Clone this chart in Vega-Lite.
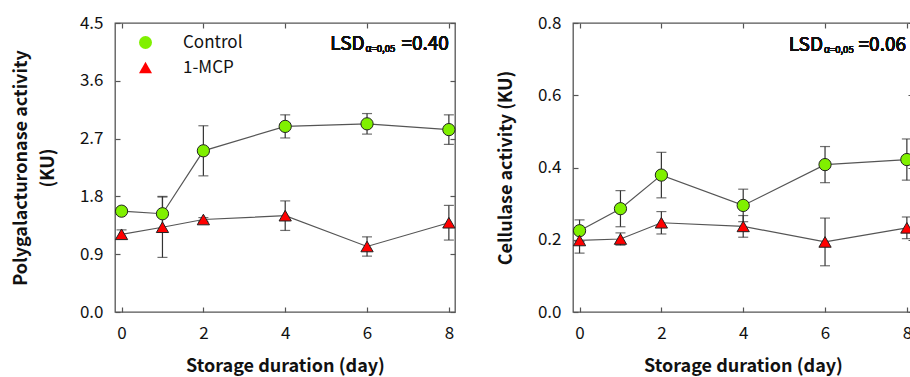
{
  "$schema": "https://vega.github.io/schema/vega-lite/v6.json",
  "background": "white",
  "padding": {"left": 11, "top": 13, "right": 0, "bottom": 0},
  "spacing": 38,
  "config": {
    "font": "Noto Sans CJK KR",
    "view": {"stroke": "#555", "strokeWidth": 1.3},
    "axis": {
      "grid": false, "domain": false,
      "tickColor": "#555", "tickSize": -5, "tickWidth": 1.2,
      "labelFont": "Noto Sans CJK KR", "labelFontSize": 17, "labelColor": "#111",
      "titleFont": "Noto Sans CJK KR", "titleFontSize": 18, "titleFontWeight": 600, "titleColor": "#111"
    },
    "legend": {
      "labelFont": "Noto Sans CJK KR", "labelFontSize": 17, "labelColor": "#111"
    }
  },
  "datasets": {
    "pg": [
      {"series": "Control", "day": 0, "value": 1.57, "err": 0.04},
      {"series": "Control", "day": 1, "value": 1.53, "err": 0.27},
      {"series": "Control", "day": 2, "value": 2.51, "err": 0.39},
      {"series": "Control", "day": 4, "value": 2.89, "err": 0.18},
      {"series": "Control", "day": 6, "value": 2.93, "err": 0.16},
      {"series": "Control", "day": 8, "value": 2.84, "err": 0.23},
      {"series": "1-MCP", "day": 0, "value": 1.21, "err": 0.07},
      {"series": "1-MCP", "day": 1, "value": 1.32, "err": 0.47},
      {"series": "1-MCP", "day": 2, "value": 1.44, "err": 0.03},
      {"series": "1-MCP", "day": 4, "value": 1.5, "err": 0.23},
      {"series": "1-MCP", "day": 6, "value": 1.02, "err": 0.15},
      {"series": "1-MCP", "day": 8, "value": 1.39, "err": 0.27}
    ],
    "cel": [
      {"series": "Control", "day": 0, "value": 0.225, "err": 0.03},
      {"series": "Control", "day": 1, "value": 0.286, "err": 0.05},
      {"series": "Control", "day": 2, "value": 0.379, "err": 0.063},
      {"series": "Control", "day": 4, "value": 0.295, "err": 0.045},
      {"series": "Control", "day": 6, "value": 0.408, "err": 0.05},
      {"series": "Control", "day": 8, "value": 0.422, "err": 0.057},
      {"series": "1-MCP", "day": 0, "value": 0.198, "err": 0.035},
      {"series": "1-MCP", "day": 1, "value": 0.202, "err": 0.017},
      {"series": "1-MCP", "day": 2, "value": 0.247, "err": 0.031},
      {"series": "1-MCP", "day": 4, "value": 0.237, "err": 0.03},
      {"series": "1-MCP", "day": 6, "value": 0.194, "err": 0.066},
      {"series": "1-MCP", "day": 8, "value": 0.233, "err": 0.03}
    ]
  },
  "hconcat": [
    {
      "width": 340, "height": 289,
      "data": {"name": "pg"},
      "layer": [
        {
          "mark": {"type": "errorbar", "ticks": {"size": 10, "color": "#333"}, "color": "#333", "thickness": 1.2},
          "encoding": {
            "x": {"field": "day", "type": "quantitative", "scale": {"domain": [-0.16, 8.15], "nice": false, "zero": false},
                  "axis": {"values": [0, 2, 4, 6, 8], "orient": "bottom", "title": "Storage duration (day)", "labelPadding": 18, "titlePadding": 16}},
            "y": {"field": "value", "type": "quantitative", "scale": {"domain": [0, 4.5], "nice": false},
                  "axis": {"values": [0, 0.9, 1.8, 2.7, 3.6, 4.5], "format": ".1f", "orient": "left", "labelPadding": 17, "titlePadding": 22,
                           "title": ["Polygalacturonase activity", "(KU)"], "titleLineHeight": 27}},
            "yError": {"field": "err"}
          }
        },
        {
          "mark": {"type": "line", "color": "#555", "strokeWidth": 1.2},
          "encoding": {
            "x": {"field": "day", "type": "quantitative", "axis": {"values": [0, 2, 4, 6, 8], "orient": "top", "labels": false, "title": null}},
            "y": {"field": "value", "type": "quantitative", "axis": {"values": [0, 0.9, 1.8, 2.7, 3.6, 4.5], "orient": "right", "labels": false, "title": null}},
            "detail": {"field": "series"}
          }
        },
        {
          "mark": {"type": "point", "filled": true, "size": 150, "stroke": "#222", "strokeWidth": 1, "opacity": 1},
          "encoding": {
            "x": {"field": "day", "type": "quantitative", "axis": null},
            "y": {"field": "value", "type": "quantitative", "axis": null},
            "shape": {"field": "series", "type": "nominal", "scale": {"domain": ["Control", "1-MCP"], "range": ["circle", "triangle-up"]},
                      "legend": {"title": null, "orient": "none", "legendX": 22, "legendY": 11, "symbolSize": 169, "labelOffset": 29, "rowPadding": 7,
                                 "symbolStrokeColor": "#222", "symbolStrokeWidth": 1, "symbolOpacity": 1}},
            "fill": {"field": "series", "type": "nominal", "scale": {"domain": ["Control", "1-MCP"], "range": ["#80f000", "#ff0000"]}, "legend": null}
          }
        },
        {
          "mark": {"type": "text", "align": "right", "baseline": "middle", "fontSize": 19, "color": "#111"},
          "encoding": {"x": {"datum": 5.94, "type": "quantitative", "axis": null}, "y": {"datum": 4.18, "type": "quantitative", "axis": null}, "text": {"value": "LSD"}}
        },
        {
          "mark": {"type": "text", "align": "left", "baseline": "middle", "fontSize": 9.5, "dx": 1, "dy": 5, "color": "#111"},
          "encoding": {"x": {"datum": 5.94, "type": "quantitative", "axis": null}, "y": {"datum": 4.18, "type": "quantitative", "axis": null}, "text": {"value": "α=0,05"}}
        },
        {
          "mark": {"type": "text", "align": "right", "baseline": "middle", "fontSize": 19, "color": "#111"},
          "encoding": {"x": {"datum": 8.0, "type": "quantitative", "axis": null}, "y": {"datum": 4.18, "type": "quantitative", "axis": null}, "text": {"value": "=0.40"}}
        }
      ],
      "resolve": {"axis": {"x": "independent", "y": "independent"}}
    },
    {
      "width": 340, "height": 289,
      "data": {"name": "cel"},
      "layer": [
        {
          "mark": {"type": "errorbar", "ticks": {"size": 10, "color": "#333"}, "color": "#333", "thickness": 1.2},
          "encoding": {
            "x": {"field": "day", "type": "quantitative", "scale": {"domain": [-0.16, 8.15], "nice": false, "zero": false},
                  "axis": {"values": [0, 2, 4, 6, 8], "orient": "bottom", "title": "Storage duration (day)", "labelPadding": 18, "titlePadding": 16}},
            "y": {"field": "value", "type": "quantitative", "scale": {"domain": [0, 0.8], "nice": false},
                  "axis": {"values": [0, 0.2, 0.4, 0.6, 0.8], "format": ".1f", "orient": "left", "labelPadding": 17, "titlePadding": 22,
                           "title": "Cellulase activity (KU)"}},
            "yError": {"field": "err"}
          }
        },
        {
          "mark": {"type": "line", "color": "#555", "strokeWidth": 1.2},
          "encoding": {
            "x": {"field": "day", "type": "quantitative", "axis": {"values": [0, 2, 4, 6, 8], "orient": "top", "labels": false, "title": null}},
            "y": {"field": "value", "type": "quantitative", "axis": {"values": [0, 0.2, 0.4, 0.6, 0.8], "orient": "right", "labels": false, "title": null}},
            "detail": {"field": "series"}
          }
        },
        {
          "mark": {"type": "point", "filled": true, "size": 150, "stroke": "#222", "strokeWidth": 1, "opacity": 1},
          "encoding": {
            "x": {"field": "day", "type": "quantitative", "axis": null},
            "y": {"field": "value", "type": "quantitative", "axis": null},
            "shape": {"field": "series", "type": "nominal", "scale": {"domain": ["Control", "1-MCP"], "range": ["circle", "triangle-up"]},
                      "legend": {"title": null, "orient": "none", "legendX": 22, "legendY": 11, "symbolSize": 169, "labelOffset": 29, "rowPadding": 7,
                                 "symbolStrokeColor": "#222", "symbolStrokeWidth": 1, "symbolOpacity": 1}},
            "fill": {"field": "series", "type": "nominal", "scale": {"domain": ["Control", "1-MCP"], "range": ["#80f000", "#ff0000"]}, "legend": null}
          }
        },
        {
          "mark": {"type": "text", "align": "right", "baseline": "middle", "fontSize": 19, "color": "#111"},
          "encoding": {"x": {"datum": 5.95, "type": "quantitative", "axis": null}, "y": {"datum": 0.74, "type": "quantitative", "axis": null}, "text": {"value": "LSD"}}
        },
        {
          "mark": {"type": "text", "align": "left", "baseline": "middle", "fontSize": 9.5, "dx": 1, "dy": 5, "color": "#111"},
          "encoding": {"x": {"datum": 5.95, "type": "quantitative", "axis": null}, "y": {"datum": 0.74, "type": "quantitative", "axis": null}, "text": {"value": "α=0,05"}}
        },
        {
          "mark": {"type": "text", "align": "right", "baseline": "middle", "fontSize": 19, "color": "#111"},
          "encoding": {"x": {"datum": 7.98, "type": "quantitative", "axis": null}, "y": {"datum": 0.74, "type": "quantitative", "axis": null}, "text": {"value": "=0.06"}}
        }
      ],
      "resolve": {"axis": {"x": "independent", "y": "independent"}}
    }
  ]
}
